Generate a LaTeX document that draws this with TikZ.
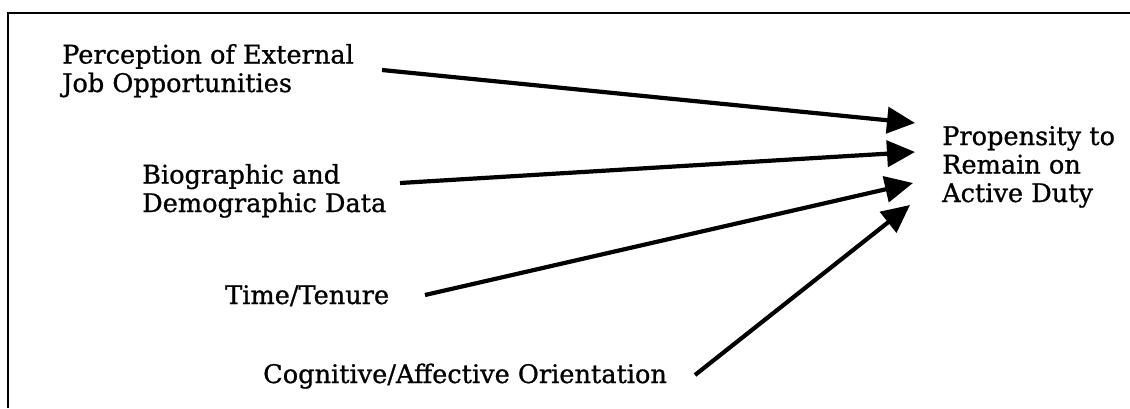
\documentclass[tikz,border=0pt]{standalone}
\usepackage{fontspec}
\setmainfont{DejaVu Serif}
\newfontfamily\lblfont{DejaVu Serif}[FakeBold=0.9]
\usetikzlibrary{arrows.meta}
\begin{document}
\begin{tikzpicture}[x=1pt,y=-1pt,
  lbl/.style={inner sep=0pt, anchor=base west, align=left, font=\lblfont\fontsize{25.6}{28.5}\selectfont},
  conn/.style={line width=4.2pt, -{Triangle[length=28pt,width=26pt]}},
  frame/.style={line width=2.5pt}]
\useasboundingbox (0,0) rectangle (1130,408);
\draw[frame] (8,408) -- (8,13) -- (1130,13);

\node[lbl] (perc) at (62,92) {Perception of External\\Job Opportunities};
\node[lbl] (bio) at (142,212) {Biographic and\\Demographic Data};
\node[lbl] (time) at (225,304) {Time/Tenure};
\node[lbl] (cog) at (263,383) {Cognitive/Affective Orientation};
\node[lbl] (prop) at (942,202) {Propensity to\\Remain on\\Active Duty};

\coordinate (s1) at (382,70);
\coordinate (s2) at (400,183);
\coordinate (s3) at (425,295);
\coordinate (s4) at (695,375);
\coordinate (t1) at (915,123);
\coordinate (t2) at (915,152);
\coordinate (t3) at (913,183);
\coordinate (t4) at (910,205);

\draw[conn] (s1) -- (t1);
\draw[conn] (s2) -- (t2);
\draw[conn] (s3) -- (t3);
\draw[conn] (s4) -- (t4);
\end{tikzpicture}
\end{document}
